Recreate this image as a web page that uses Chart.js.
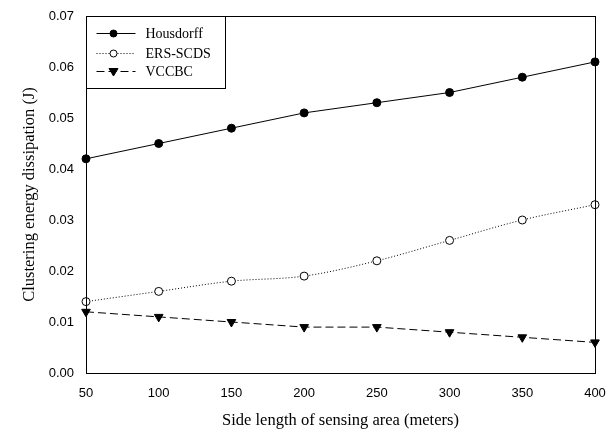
<!DOCTYPE html>
<html>
<head>
<meta charset="utf-8">
<script src="https://cdn.jsdelivr.net/npm/chart.js@4/dist/chart.umd.min.js"></script>
<style>
  html, body { margin: 0; padding: 0; background: #fff; }
  #wrap { width: 615px; height: 433px; }
</style>
</head>
<body>
<div id="wrap"><canvas id="grafico" width="615" height="433"></canvas></div>
<script>
const ladoArea = [50, 100, 150, 200, 250, 300, 350, 400];
const housdorff = [0.042, 0.045, 0.048, 0.051, 0.053, 0.055, 0.058, 0.061];
const ersScds = [0.014, 0.016, 0.018, 0.019, 0.022, 0.026, 0.030, 0.033];
const vccbc = [0.012, 0.011, 0.010, 0.009, 0.009, 0.008, 0.007, 0.006];
const nomes = ['Housdorff', 'ERS-SCDS', 'VCCBC'];

const pares = (ys) => ladoArea.map((x, i) => ({ x: x, y: ys[i] }));

// moldura em volta da area do grafico
const moldura = {
  id: 'moldura',
  afterDraw(chart) {
    const { ctx, chartArea: a } = chart;
    ctx.save();
    ctx.strokeStyle = '#000';
    ctx.lineWidth = 1;
    ctx.strokeRect(a.left + 0.5, a.top + 0.5, a.right - a.left, a.bottom - a.top);
    ctx.restore();
  }
};

// legenda dentro do grafico, canto superior esquerdo, com caixa
const legendaCaixa = {
  id: 'legendaCaixa',
  afterDraw(chart) {
    const { ctx, chartArea: a } = chart;
    const x0 = a.left + 0.5, y0 = a.top + 0.5;
    const w = 139, h = 72;
    ctx.save();
    ctx.fillStyle = '#fff';
    ctx.fillRect(x0, y0, w, h);
    ctx.strokeStyle = '#000';
    ctx.lineWidth = 1;
    ctx.strokeRect(x0, y0, w, h);
    const linhas = [17, 37, 55];
    chart.data.datasets.forEach((ds, i) => {
      const yy = y0 + linhas[i];
      const cx = x0 + 27;
      ctx.beginPath();
      ctx.setLineDash(ds.borderDash || []);
      ctx.strokeStyle = '#000';
      ctx.lineWidth = 1;
      ctx.moveTo(x0 + 10, yy);
      ctx.lineTo(x0 + 49, yy);
      ctx.stroke();
      ctx.setLineDash([]);
      ctx.fillStyle = ds.pointBackgroundColor;
      ctx.beginPath();
      if (ds.pointStyle === 'circle') {
        ctx.arc(cx, yy, 3.5, 0, Math.PI * 2);
      } else {
        ctx.moveTo(cx - 4.5, yy - 3);
        ctx.lineTo(cx + 4.5, yy - 3);
        ctx.lineTo(cx, yy + 4.5);
        ctx.closePath();
      }
      ctx.fill();
      ctx.stroke();
      ctx.fillStyle = '#000';
      ctx.font = '14px "Liberation Serif"';
      ctx.textBaseline = 'middle';
      ctx.fillText(nomes[i], x0 + 59, yy + 1);
    });
    ctx.restore();
  }
};

new Chart(document.getElementById('grafico').getContext('2d'), {
  type: 'line',
  data: {
    datasets: [
      {
        label: nomes[0],
        data: pares(housdorff),
        borderColor: '#000',
        borderWidth: 1,
        pointStyle: 'circle',
        pointRadius: 4,
        pointBackgroundColor: '#000',
        pointBorderColor: '#000',
        tension: 0,
        clip: false
      },
      {
        label: nomes[1],
        data: pares(ersScds),
        borderColor: '#000',
        borderWidth: 1,
        borderDash: [1, 2],
        pointStyle: 'circle',
        pointRadius: 4,
        pointBackgroundColor: '#fff',
        pointBorderColor: '#000',
        cubicInterpolationMode: 'monotone',
        clip: false
      },
      {
        label: nomes[2],
        data: pares(vccbc),
        borderColor: '#000',
        borderWidth: 1,
        borderDash: [8, 4],
        pointStyle: 'triangle',
        pointRotation: 180,
        pointRadius: 5,
        pointBackgroundColor: '#000',
        pointBorderColor: '#000',
        tension: 0,
        clip: false
      }
    ]
  },
  options: {
    responsive: false,
    animation: false,
    layout: { padding: { top: 16, right: 20, left: 0, bottom: 0 } },
    plugins: { legend: { display: false }, tooltip: { enabled: false } },
    scales: {
      x: {
        type: 'linear',
        min: 50,
        max: 400,
        afterFit(s) { s.height = 60; },
        ticks: {
          stepSize: 50,
          color: '#000',
          padding: 8,
          maxRotation: 0,
          font: { family: '"Liberation Sans"', size: 13 }
        },
        grid: { display: false, drawTicks: true, tickLength: 5, tickColor: '#000' },
        border: { color: '#000' },
        title: {
          display: true,
          text: 'Side length of sensing area (meters)',
          color: '#000',
          font: { family: '"Liberation Serif"', size: 16.5 },
          padding: { top: 0, bottom: 2 }
        }
      },
      y: {
        min: 0,
        max: 0.07,
        afterFit(s) { s.width = 86; },
        ticks: {
          stepSize: 0.01,
          color: '#000',
          padding: 5,
          font: { family: '"Liberation Sans"', size: 13 },
          callback: (v) => v.toFixed(2)
        },
        grid: { display: false, drawTicks: true, tickLength: 7, tickColor: '#000' },
        border: { color: '#000' },
        title: {
          display: true,
          text: 'Clustering energy dissipation (J)',
          color: '#000',
          font: { family: '"Liberation Serif"', size: 16.5 },
          padding: { top: 20, bottom: 0 }
        }
      }
    }
  },
  plugins: [moldura, legendaCaixa]
});
</script>
</body>
</html>
